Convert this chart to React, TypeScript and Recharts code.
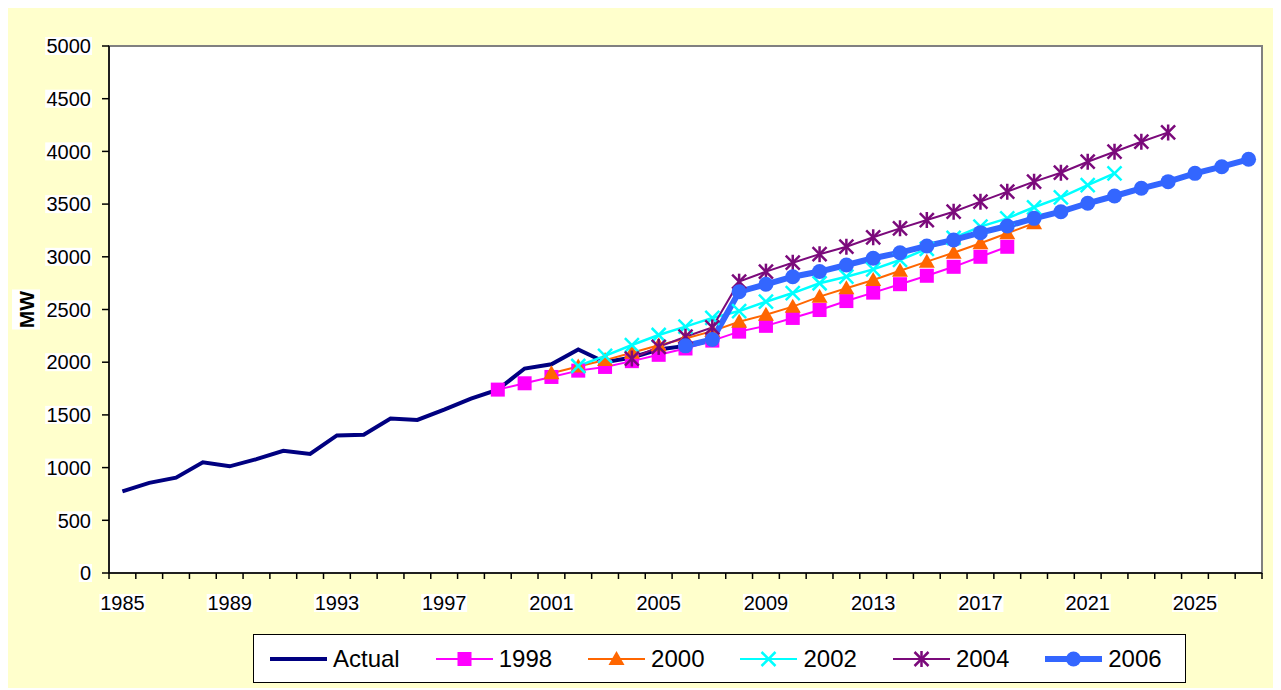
import { LineChart, Line, XAxis, YAxis, ReferenceArea } from 'recharts'

const YEARS = [
  1985, 1986, 1987, 1988, 1989, 1990, 1991, 1992, 1993, 1994, 1995, 1996, 1997, 1998, 1999,
  2000, 2001, 2002, 2003, 2004, 2005, 2006, 2007, 2008, 2009, 2010, 2011, 2012, 2013, 2014,
  2015, 2016, 2017, 2018, 2019, 2020, 2021, 2022, 2023, 2024, 2025, 2026, 2027,
]
const LABEL_YEARS = [1985, 1989, 1993, 1997, 2001, 2005, 2009, 2013, 2017, 2021, 2025]
const Y_TICKS = [0, 500, 1000, 1500, 2000, 2500, 3000, 3500, 4000, 4500, 5000]

// each series starts at its own year
const ACTUAL_START = 1985
const ACTUAL = [
  775, 855, 905, 1050, 1012, 1080, 1160, 1130, 1305, 1312, 1465, 1452, 1550, 1655, 1740,
  1940, 1980, 2120, 2000, 2045, 2120, 2155,
]
const F1998_START = 1999
const F1998 = [
  1740, 1800, 1860, 1920, 1955, 2010, 2070, 2130, 2205, 2290, 2345, 2420, 2495, 2580, 2660,
  2740, 2820, 2905, 3000, 3095,
]
const F2000_START = 2001
const F2000 = [
  1895, 1960, 2020, 2090, 2160, 2225, 2295, 2384, 2450, 2527, 2622, 2701, 2780, 2868, 2954,
  3039, 3128, 3223, 3318,
]
const F2002_START = 2002
const F2002 = [
  1964, 2060, 2163, 2258, 2337, 2420, 2485, 2574, 2656, 2749, 2811, 2881, 2970, 3075, 3180,
  3286, 3365, 3470, 3564, 3681, 3792,
]
const F2004_START = 2004
const F2004 = [
  2035, 2145, 2242, 2330, 2764, 2859, 2944, 3025, 3096, 3185, 3270, 3349, 3428, 3523, 3618,
  3713, 3798, 3902, 3997, 4092, 4180,
]
const F2006_START = 2006
const F2006 = [
  2155, 2215, 2669, 2739, 2811, 2860, 2922, 2986, 3039, 3103, 3160, 3229, 3292, 3365, 3428,
  3508, 3577, 3650, 3713, 3792, 3855, 3925,
]

const at = (values: number[], start: number, year: number) => {
  const v = values[year - start]
  return v === undefined ? null : v
}

const data = YEARS.map((year) => ({
  year,
  actual: at(ACTUAL, ACTUAL_START, year),
  f1998: at(F1998, F1998_START, year),
  f2000: at(F2000, F2000_START, year),
  f2002: at(F2002, F2002_START, year),
  f2004: at(F2004, F2004_START, year),
  f2006: at(F2006, F2006_START, year),
}))

const FONT = '"Liberation Sans", Arial, sans-serif'
const W = 1273
const H = 680
const MARGIN = { top: 38, right: 19, left: 0, bottom: 0 }
const Y_AXIS_W = 101
const X_AXIS_H = 115
const BAND = (W - MARGIN.right - Y_AXIS_W) / YEARS.length

type MarkerKind = 'none' | 'square' | 'triangle' | 'cross' | 'star' | 'circle'

const SERIES: { key: string; name: string; color: string; width: number; marker: MarkerKind }[] = [
  { key: 'actual', name: 'Actual', color: '#000080', width: 4, marker: 'none' },
  { key: 'f1998', name: '1998', color: '#FF00FF', width: 2, marker: 'square' },
  { key: 'f2000', name: '2000', color: '#FF6600', width: 2, marker: 'triangle' },
  { key: 'f2002', name: '2002', color: '#00FFFF', width: 2.5, marker: 'cross' },
  { key: 'f2004', name: '2004', color: '#7B0A7B', width: 2, marker: 'star' },
  { key: 'f2006', name: '2006', color: '#3366FF', width: 6, marker: 'circle' },
]

function Marker({ kind, color, x, y }: { kind: MarkerKind; color: string; x: number; y: number }) {
  switch (kind) {
    case 'square':
      return <rect x={x - 7} y={y - 7} width={14} height={14} fill={color} />
    case 'triangle':
      return <polygon points={`${x},${y - 8} ${x + 8},${y + 6} ${x - 8},${y + 6}`} fill={color} />
    case 'cross':
      return (
        <g stroke={color} strokeWidth={2.5}>
          <line x1={x - 7} y1={y - 7} x2={x + 7} y2={y + 7} />
          <line x1={x - 7} y1={y + 7} x2={x + 7} y2={y - 7} />
        </g>
      )
    case 'star':
      return (
        <g stroke={color} strokeWidth={2.5}>
          <line x1={x - 7} y1={y - 7} x2={x + 7} y2={y + 7} />
          <line x1={x - 7} y1={y + 7} x2={x + 7} y2={y - 7} />
          <line x1={x} y1={y - 8} x2={x} y2={y + 8} />
        </g>
      )
    case 'circle':
      return <circle cx={x} cy={y} r={7.5} fill={color} />
    default:
      return null
  }
}

const makeDot = (kind: MarkerKind, color: string) => (props: any) => {
  const { cx, cy, index } = props
  const key = `${kind}-${index}`
  if (kind === 'none' || cx == null || cy == null) return <g key={key} />
  return (
    <g key={key}>
      <Marker kind={kind} color={color} x={cx} y={cy} />
    </g>
  )
}

function YTick({ x, y, payload }: any) {
  const label = String(payload.value)
  const w = label.length * 11.2 + 2
  return (
    <g>
      <rect x={x - w + 1} y={y - 9} width={w} height={18} fill="#fff" />
      <text x={x} y={y} dy="0.36em" textAnchor="end" fontSize={20} fontFamily={FONT} fill="#000">
        {label}
      </text>
    </g>
  )
}

// tick marks sit between the years, labels on every fourth year
function XTick({ x, y, payload, index }: any) {
  const year = payload.value
  const left = x - BAND / 2
  const right = x + BAND / 2
  return (
    <g>
      <line x1={left} y1={y} x2={left} y2={y + 6} stroke="#000" strokeWidth={1.5} />
      {index === YEARS.length - 1 && (
        <line x1={right} y1={y} x2={right} y2={y + 6} stroke="#000" strokeWidth={1.5} />
      )}
      {LABEL_YEARS.includes(year) && (
        <g>
          <rect x={x - 23} y={y + 21} width={46} height={18} fill="#fff" />
          <text x={x} y={y + 30} dy="0.36em" textAnchor="middle" fontSize={20} fontFamily={FONT} fill="#000">
            {year}
          </text>
        </g>
      )}
    </g>
  )
}

function MwLabel({ viewBox }: any) {
  const cx = viewBox.x + 18
  const cy = viewBox.y + viewBox.height / 2
  return (
    <g>
      <rect x={cx - 14} y={cy - 20} width={28} height={40} fill="#fff" />
      <text
        x={cx}
        y={cy}
        dy="0.36em"
        textAnchor="middle"
        fontSize={21}
        fontWeight="bold"
        fontFamily={FONT}
        fill="#000"
        transform={`rotate(-90, ${cx}, ${cy})`}
      >
        MW
      </text>
    </g>
  )
}

function LegendBox() {
  return (
    <div
      style={{
        position: 'absolute',
        left: 245,
        top: 626,
        width: 933,
        height: 49,
        boxSizing: 'border-box',
        border: '1.5px solid #000',
        background: '#fff',
        display: 'flex',
        alignItems: 'center',
        paddingLeft: 16,
        gap: 36,
        fontFamily: FONT,
        fontSize: 24,
        color: '#000',
      }}
    >
      {SERIES.map((s) => (
        <div key={s.key} style={{ display: 'flex', alignItems: 'center' }}>
          <svg width={57} height={24} style={{ display: 'block' }}>
            <line x1={0} y1={12} x2={57} y2={12} stroke={s.color} strokeWidth={s.width === 6 ? 6 : s.width === 4 ? 4 : 2} />
            <Marker kind={s.marker} color={s.color} x={28.5} y={12} />
          </svg>
          <span style={{ marginLeft: 6, lineHeight: '24px' }}>{s.name}</span>
        </div>
      ))}
    </div>
  )
}

export default function App() {
  return (
    <div style={{ position: 'relative', width: W, height: H, background: '#FFFFCC' }}>
      <LineChart width={W} height={H} data={data} margin={MARGIN}>
        <ReferenceArea
          x1={1984.5}
          x2={2027.5}
          y1={0}
          y2={5000}
          fill="#fff"
          fillOpacity={1}
          stroke="#808080"
          strokeWidth={2}
          ifOverflow="visible"
        />
        <XAxis
          dataKey="year"
          type="number"
          domain={[1984.5, 2027.5]}
          ticks={YEARS}
          interval={0}
          height={X_AXIS_H}
          tickSize={0}
          tickMargin={0}
          tickLine={false}
          axisLine={{ stroke: '#000', strokeWidth: 1.5 }}
          tick={<XTick />}
          allowDataOverflow
        />
        <YAxis
          width={Y_AXIS_W}
          domain={[0, 5000]}
          ticks={Y_TICKS}
          interval={0}
          tickSize={7}
          tickMargin={11}
          tickLine={{ stroke: '#000', strokeWidth: 1.5 }}
          axisLine={{ stroke: '#000', strokeWidth: 1.5 }}
          tick={<YTick />}
          label={<MwLabel />}
        />
        {SERIES.map((s) => (
          <Line
            key={s.key}
            type="linear"
            dataKey={s.key}
            name={s.name}
            stroke={s.color}
            strokeWidth={s.width}
            dot={makeDot(s.marker, s.color)}
            activeDot={false}
            connectNulls={false}
            isAnimationActive={false}
          />
        ))}
      </LineChart>
      <LegendBox />
    </div>
  )
}
